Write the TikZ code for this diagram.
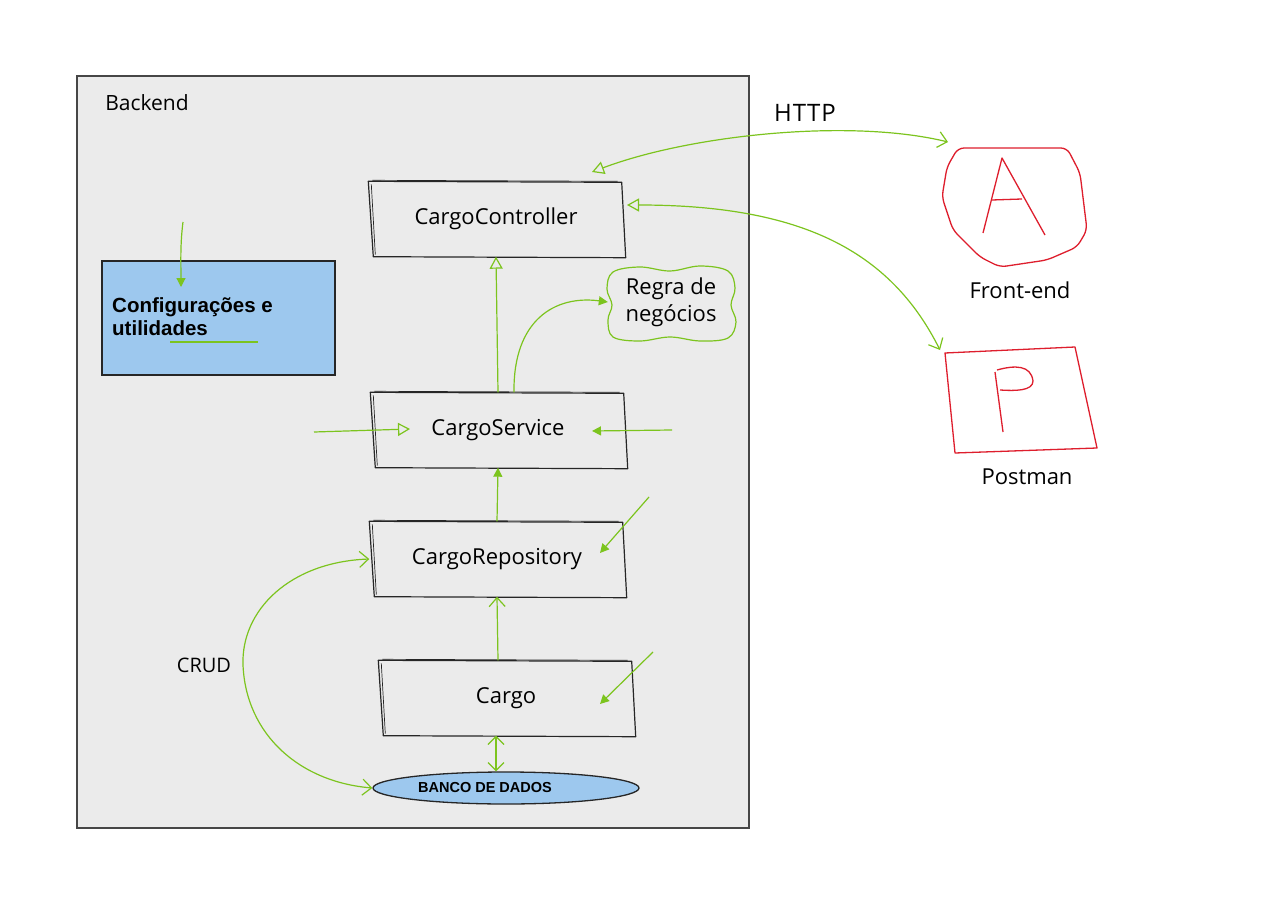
\documentclass[tikz,border=0pt]{standalone}
\usepackage{fontspec}
\setmainfont{Liberation Sans}
\newfontfamily\hand{Open Sans}
\usetikzlibrary{arrows.meta,calc,shapes.geometric}
\definecolor{bgray}{RGB}{235,235,235}
\definecolor{frame}{RGB}{70,70,70}
\definecolor{lblue}{RGB}{157,200,238}
\definecolor{gline}{RGB}{124,196,30}
\definecolor{rline}{RGB}{222,30,45}
\tikzset{
  handtxt/.style={font=\hand\fontsize{22}{26}\selectfont, text=black},
  boxn/.style={handtxt, minimum width=255, minimum height=75, inner sep=0},
  sk/.style={draw=black!85, line width=1.2pt, line join=round},
  skthin/.style={draw=black!85, line width=0.7pt},
  gl/.style={draw=gline, line width=1.2pt},
  opentip/.style={-{Triangle[open,length=12pt,width=13pt,line width=1.2pt]}},
  filltip/.style={-{Triangle[length=9pt,width=9pt]}},
  barb/.style={-{Straight Barb[length=9pt,width=16pt,line width=1.2pt]}},
  redl/.style={draw=rline, line width=1.3pt, line join=round},
}
\newcommand\skbox[1]{%
  \draw[sk] ($(#1.north west)+(0,0)$) -- ($(#1.north east)+(-2,1)$) -- ($(#1.south east)+(2,1)$) -- ($(#1.south west)+(5,0)$) -- cycle;
  \draw[skthin] ($(#1.north west)+(3,3)$) -- ($(#1.south west)+(7,-2)$);
  \draw[skthin] ($(#1.north west)+(4,-1)$) -- ($(#1.north east)+(-6,0)$);
}
\begin{document}
\begin{tikzpicture}[x=1pt,y=-1pt]
\useasboundingbox (0,0) rectangle (1280,904);
\fill[white] (0,0) rectangle (1280,904);
% backend frame
\draw[fill=bgray, draw=frame, line width=1.3pt] (77,76) rectangle (749,828);
\node[handtxt, font=\hand\fontsize{21}{24}\selectfont] (backend) at (147,103) {Backend};

% boxes
\node[boxn] (ctrl) at (496,219) {CargoController};
\node[boxn] (svc) at (498,430) {CargoService};
\node[boxn] (repo) at (497,559) {CargoRepository};
\node[boxn] (cargo) at (506,698) {Cargo};
\skbox{ctrl}
\skbox{svc}
\skbox{repo}
\skbox{cargo}

\node[ellipse, draw=black!85, fill=lblue, line width=1.3pt, minimum width=266, minimum height=32, inner sep=0,
  font=\bfseries\fontsize{14.5}{16}\selectfont] (db) at (506,788) {\hspace*{-42pt}BANCO DE DADOS};

% config box
\node[rectangle, draw=black!85, fill=lblue, line width=1.2pt, minimum width=233, minimum height=114, inner sep=0] (cfg) at (218.5,318) {};
\node[anchor=west, align=left, inner sep=0, font=\bfseries\fontsize{20.5}{23}\selectfont] (cfgt) at (112,317) {Configurações e\\utilidades};
\coordinate (cfgin) at (183,222);
\coordinate (cfgtip) at (181,287);
\draw[gl, filltip] (cfgin) .. controls (180,245) and (181,265) .. (cfgtip);
\coordinate (ulA) at (170,342);
\coordinate (ulB) at (258,342);
\draw[gl] (ulA) -- (ulB);

% regra cloud
\node[handtxt, align=center, font=\hand\fontsize{22}{27}\selectfont, minimum width=126, minimum height=70, inner sep=0] (regra) at (671,302) {Regra de\\negócios};
\draw[gl] plot[smooth cycle, tension=0.6] coordinates {(613,272) (640,267) (670,271) (700,266) (728,271) (735,288) (731,305) (736,322) (728,338) (700,341) (670,337) (640,341) (613,337) (608,320) (612,305) (607,289)};

% vertical connectors
\draw[gl, opentip] (svc.north) -- (ctrl.south);
\draw[gl, filltip] (repo.north) -- (svc.south);
\draw[gl, barb] ($(cargo.north)+(-8,0)$) -- (repo.south);
\draw[gl, {Straight Barb[length=8pt,width=16pt,line width=1.2pt]}-{Straight Barb[length=8pt,width=16pt,line width=1.2pt]}]
  ($(cargo.south)+(-10,0)$) -- ($(db.north)+(-10,0)$);
\draw[gl, filltip] ($(svc.north)+(16,0)$) .. controls (513,320) and (555,295) .. (regra.west);

% side arrows into service
\coordinate (svcLout) at (314,432);
\coordinate (svcLin) at (410,429);
\draw[gl, opentip] (svcLout) -- (svcLin);
\coordinate (svcRout) at (672,430);
\coordinate (svcRin) at (592,431);
\draw[gl, filltip] (svcRout) -- (svcRin);

% arrows into repo and cargo
\coordinate (repoout) at (649,497);
\coordinate (repoin) at (600,553);
\draw[gl, filltip] (repoout) -- (repoin);
\coordinate (cargoout) at (653,652);
\coordinate (cargoin) at (600,704);
\draw[gl, filltip] (cargoout) -- (cargoin);

% CRUD
\node[handtxt, font=\hand\fontsize{20}{24}\selectfont] (crud) at (204,665) {CRUD};
\draw[gl, {Straight Barb[length=9pt,width=16pt,line width=1.2pt]}-{Straight Barb[length=9pt,width=16pt,line width=1.2pt]}]
  (repo.west) .. controls (290,562) and (241,610) .. (243,665) .. controls (246,735) and (300,782) .. (db.west);

% front-end icon
\draw[redl, rounded corners=6pt] (958,148) -- (1067,148) -- (1080,173) -- (1087,230) -- (1077,247) -- (1047,260) -- (1000,267)
  -- (980,257) -- (953,230) -- (942,197) -- (947,167) -- cycle;
\draw[redl] (983,233) -- (1002,158) -- (1045,235);
\draw[redl] (992,200) -- (1022,199);
\node[minimum width=140, minimum height=115] (fe) at (1014,207) {};
\node[handtxt, font=\hand\fontsize{22}{26}\selectfont] (felabel) at (1020,290) {Front-end};

% postman icon
\draw[redl] (945,353) -- (1075,347) -- (1097,448) -- (955,453) -- cycle;
\draw[redl] (995,372) -- (1003,432);
\draw[redl] (997,370) .. controls (1015,365) and (1031,365) .. (1033,381) .. controls (1033,391) and (1015,391) .. (1000,390);
\node[minimum width=150, minimum height=105] (pm) at (1020,400) {};
\node[handtxt, font=\hand\fontsize{22}{26}\selectfont] (pmlabel) at (1027,477) {Postman};

% HTTP arrows
\node[handtxt, font=\hand\fontsize{24}{26}\selectfont] (http) at (805,113) {H\kern1ptT\kern1ptT\kern1ptP};
\coordinate (h1a) at (592,172);
\coordinate (h1b) at (948,142);
\draw[gl, {Triangle[open,length=12pt,width=13pt,line width=1.2pt]}-{Straight Barb[length=9pt,width=16pt,line width=1.2pt]}]
  (h1a) .. controls (690,135) and (850,118) .. (h1b);
\coordinate (h2a) at (627,205);
\coordinate (h2b) at (940,350);
\draw[gl, {Triangle[open,length=12pt,width=13pt,line width=1.2pt]}-{Straight Barb[length=9pt,width=16pt,line width=1.2pt]}]
  (h2a) .. controls (800,205) and (890,250) .. (h2b);
\end{tikzpicture}
\end{document}
